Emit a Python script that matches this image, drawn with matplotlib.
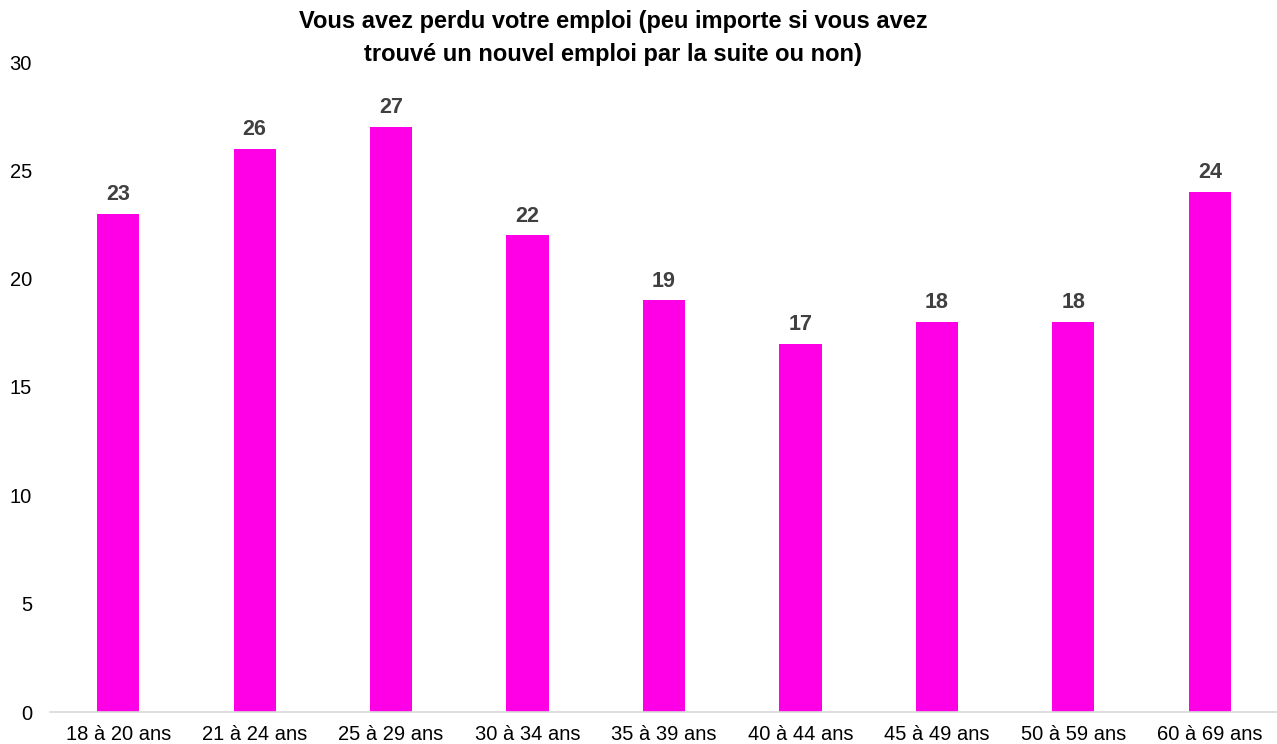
import matplotlib.pyplot as plt

categories = ['18 à 20 ans', '21 à 24 ans', '25 à 29 ans', '30 à 34 ans', '35 à 39 ans',
              '40 à 44 ans', '45 à 49 ans', '50 à 59 ans', '60 à 69 ans']
values = [23, 26, 27, 22, 19, 17, 18, 18, 24]
yticks = [0, 5, 10, 15, 20, 25, 30]
title = 'Vous avez perdu votre emploi (peu importe si vous avez\ntrouvé un nouvel emploi par la suite ou non)'

plt.rcParams['font.family'] = ['Liberation Sans', 'DejaVu Sans']

fig = plt.figure(figsize=(12.77, 7.44), dpi=100)
ax = fig.add_axes([50 / 1277, 32 / 744, 1228 / 1277, 650 / 744])

x = list(range(len(categories)))
ax.bar(x, values, width=0.31, color='#ff00e6', zorder=2)
for xi, v in zip(x, values):
    ax.text(xi, v + 0.4, str(v), ha='center', va='bottom', fontsize=15.5,
            fontweight='bold', color='#404040')

ax.set_xlim(-0.5, len(categories) - 0.5)
ax.set_ylim(0, 30)
ax.set_yticks(yticks)
ax.set_xticks(x)
ax.set_xticklabels(categories, fontsize=14.5)
ax.tick_params(axis='y', labelsize=14.5, length=0, pad=13)
ax.tick_params(axis='x', length=0, pad=9)

for s in ['top', 'right', 'left']:
    ax.spines[s].set_visible(False)
ax.spines['bottom'].set_color('#d9d9d9')
ax.spines['bottom'].set_linewidth(1.2)

fig.text(613 / 1277, 1 - 10 / 744, title, ha='center', va='top', fontsize=17,
         fontweight='bold', linespacing=1.55)

fig.savefig('out.png', dpi=100)
